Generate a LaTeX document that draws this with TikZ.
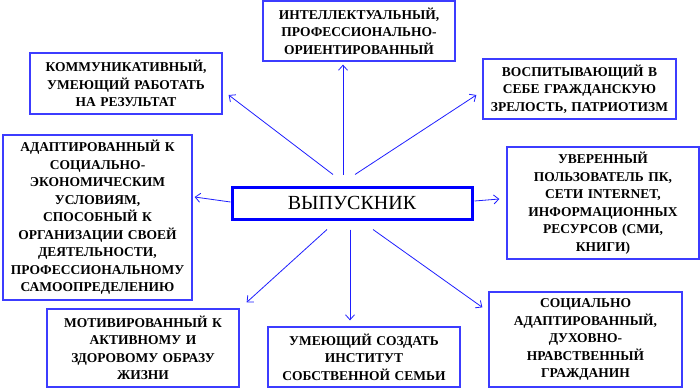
\documentclass[tikz,border=0pt]{standalone}
\usepackage{fontspec}
\setmainfont{Liberation Serif}
\usepackage{tikz}
\usetikzlibrary{arrows.meta,calc}
\definecolor{boxblue}{RGB}{60,60,255}
\definecolor{arrowblue}{RGB}{30,30,255}

\begin{document}
\begin{tikzpicture}[
      x=1pt, y=-1pt,
      quality/.style={draw=boxblue, line width=1.3pt, align=center, inner sep=2pt,
        text width=180pt, minimum width=192pt,
        font=\bfseries\fontsize{13.5}{17.5}\selectfont},
      grad/.style={draw=blue, line width=3pt, align=center,
        minimum width=240pt, minimum height=32pt, font=\fontsize{20}{24}\selectfont},
      arr/.style={draw=arrowblue, line width=0.8pt, -{Straight Barb[length=5pt,width=9pt]}}
    ]
    \useasboundingbox (0,0) rectangle (700,389);
    \node[grad] (vyp) at (352,203) {ВЫПУСКНИК};
    \node[quality, minimum height=60pt] (intel) at (359,31) {
      ИНТЕЛЛЕКТУАЛЬНЫЙ,\\
      ПРОФЕССИОНАЛЬНО-\\
      ОРИЕНТИРОВАННЫЙ
    };
    \node[quality, minimum height=61pt] (komm) at (126,83.5) {
      КОММУНИКАТИВНЫЙ,\\
      УМЕЮЩИЙ РАБОТАТЬ\\
      НА РЕЗУЛЬТАТ
    };
    \node[quality, minimum height=60pt, minimum width=193pt] (vosp) at (579.5,89) {
      ВОСПИТЫВАЮЩИЙ В\\
      СЕБЕ ГРАЖДАНСКУЮ\\
      ЗРЕЛОСТЬ, ПАТРИОТИЗМ
    };
    \node[quality, minimum height=112pt] (uver) at (603,203) {
      УВЕРЕННЫЙ\\
      ПОЛЬЗОВАТЕЛЬ ПК,\\
      СЕТИ INTERNET,\\
      ИНФОРМАЦИОННЫХ\\
      РЕСУРСОВ (СМИ,\\
      КНИГИ)
    };
    \node[quality, minimum height=165pt, minimum width=189pt] (adapt) at (97.5,217.5) {
      АДАПТИРОВАННЫЙ К\\
      СОЦИАЛЬНО-\\
      ЭКОНОМИЧЕСКИМ\\
      УСЛОВИЯМ,\\
      СПОСОБНЫЙ К\\
      ОРГАНИЗАЦИИ СВОЕЙ\\
      ДЕЯТЕЛЬНОСТИ,\\
      ПРОФЕССИОНАЛЬНОМУ\\
      САМООПРЕДЕЛЕНИЮ
    };
    \node[quality, minimum height=78pt] (motiv) at (143,348) {
      МОТИВИРОВАННЫЙ К\\
      АКТИВНОМУ И\\
      ЗДОРОВОМУ ОБРАЗУ\\
      ЖИЗНИ
    };
    \node[quality, minimum height=60pt] (semya) at (364,357) {
      УМЕЮЩИЙ СОЗДАТЬ\\
      ИНСТИТУТ\\
      СОБСТВЕННОЙ СЕМЬИ
    };
    \node[quality, minimum height=95pt, minimum width=193pt] (grazh) at (585.5,339.5) {
      СОЦИАЛЬНО\\
      АДАПТИРОВАННЫЙ,\\
      ДУХОВНО-\\
      НРАВСТВЕННЫЙ\\
      ГРАЖДАНИН
    };
    \draw[arr] ($(vyp.north)+(-9,-11)$) -- ($(intel.south)+(-16,3)$);
    \draw[arr] ($(vyp.north)+(-19,-11)$) -- ($(komm.east)+(6,11.5)$);
    \draw[arr] ($(vyp.north)+(3,-11)$) -- ($(vosp.west)+(-6,6)$);
    \draw[arr] ($(vyp.east)+(1,-2)$) -- ($(uver.west)+(-7,-4)$);
    \draw[arr] ($(vyp.west)+(0,-1)$) -- ($(adapt.east)+(2,-20.5)$);
    \draw[arr] ($(vyp.south)+(-25,9)$) -- ($(motiv.north east)+(7,-6)$);
    \draw[arr] ($(vyp.south)+(-2,9)$) -- ($(semya.north)+(-14,-6)$);
    \draw[arr] ($(vyp.south)+(21,9)$) -- ($(grazh.north west)+(-6,16)$);
  \end{tikzpicture}
\end{document}
